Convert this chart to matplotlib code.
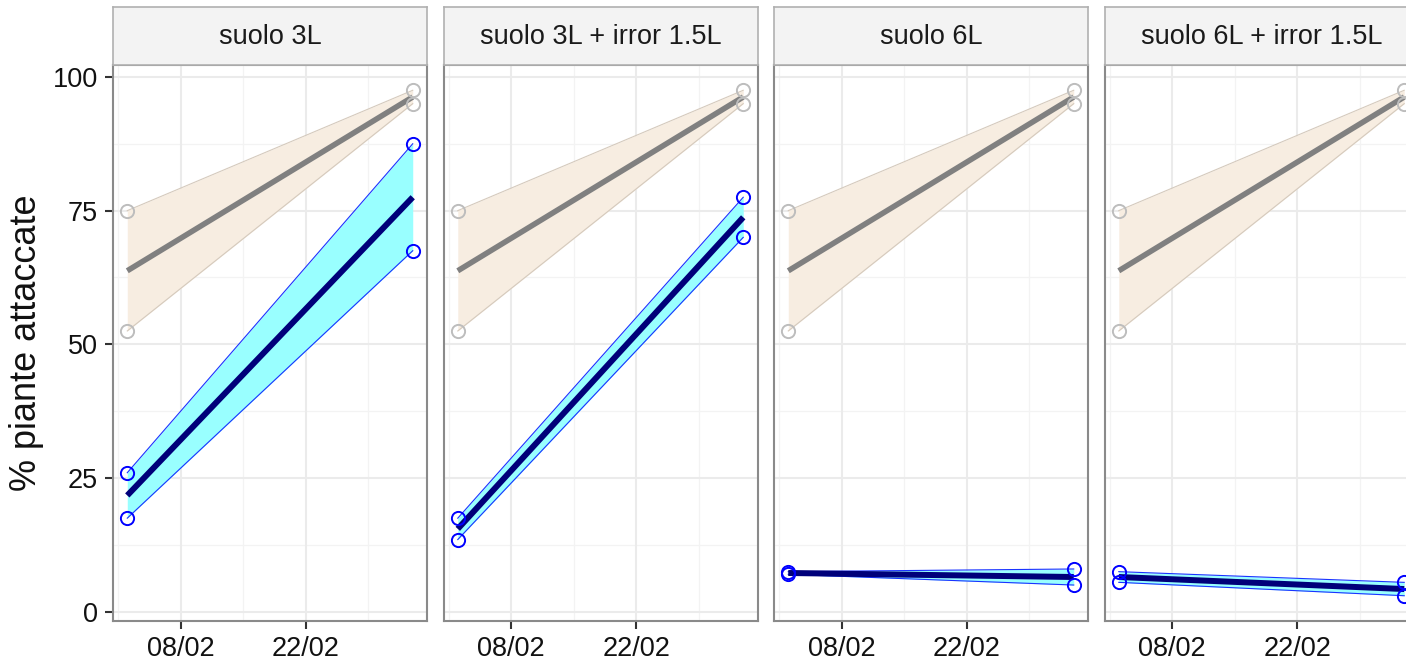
import numpy as np
import matplotlib
matplotlib.use('Agg')
import matplotlib.pyplot as plt
import matplotlib.dates as mdates

plt.rcParams['font.family'] = ['Liberation Sans', 'DejaVu Sans']

# data
panels = ['suolo 3L', 'suolo 3L + irror 1.5L', 'suolo 6L', 'suolo 6L + irror 1.5L']
dates = np.array(['2019-02-02', '2019-03-06'], dtype='datetime64[D]')

ctrl_a = [75.0, 97.5]
ctrl_b = [52.5, 95.0]

treat_a = [[26.0, 87.5], [17.5, 77.5], [7.5, 8.0], [7.5, 5.5]]
treat_b = [[17.5, 67.5], [13.5, 70.0], [7.0, 5.0], [5.5, 3.0]]

major_dates = np.array(['2019-02-08', '2019-02-22'], dtype='datetime64[D]')
minor_dates = np.array(['2019-02-01', '2019-02-15', '2019-03-01'], dtype='datetime64[D]')
y_major = [0, 25, 50, 75, 100]
y_minor = [12.5, 37.5, 62.5, 87.5]

W, H = 1406, 666
fig = plt.figure(figsize=(W / 100, H / 100), dpi=100)

x = mdates.date2num(dates.astype('datetime64[s]').astype(object))
xr = x[-1] - x[0]
xlim = (x[0] - 0.05 * xr, x[-1] + 0.05 * xr)
allv = np.concatenate([ctrl_a, ctrl_b, np.ravel(treat_a), np.ravel(treat_b)])
yr = allv.max() - allv.min()
ylim = (allv.min() - 0.05 * yr, allv.max() + 0.05 * yr)

xmaj = mdates.date2num(major_dates.astype('datetime64[s]').astype(object))
xmin = mdates.date2num(minor_dates.astype('datetime64[s]').astype(object))

left0, pw, gap = 113, 314, 16.5
top, bottom, strip_top = 65, 621, 7
border = '#8a8a8a'


def ribbon(ax, a, b, fill, edge, line, pt, lw):
    a = np.array(a)
    b = np.array(b)
    lo = np.minimum(a, b)
    hi = np.maximum(a, b)
    ax.fill_between(x, lo, hi, color=fill, lw=0, zorder=2)
    ax.plot(x, lo, color=edge, lw=0.8, zorder=2.5)
    ax.plot(x, hi, color=edge, lw=0.8, zorder=2.5)
    ax.plot(x, (a + b) / 2, color=line, lw=lw, zorder=3, solid_capstyle='butt')
    ax.plot(x, a, 'o', mfc='none', mec=pt, ms=9.5, mew=1.4, zorder=4, clip_on=False)
    ax.plot(x, b, 'o', mfc='none', mec=pt, ms=9.5, mew=1.4, zorder=4, clip_on=False)


for i, name in enumerate(panels):
    l = left0 + i * (pw + gap)
    ax = fig.add_axes([l / W, (H - bottom) / H, pw / W, (bottom - top) / H])
    ax.set_xlim(xlim)
    ax.set_ylim(ylim)

    for v in y_minor:
        ax.axhline(v, color='#f3f3f3', lw=0.9, zorder=0)
    for v in xmin:
        ax.axvline(v, color='#f3f3f3', lw=0.9, zorder=0)
    for v in y_major:
        ax.axhline(v, color='#ebebeb', lw=1.5, zorder=0.5)
    for v in xmaj:
        ax.axvline(v, color='#ebebeb', lw=1.5, zorder=0.5)

    ribbon(ax, ctrl_a, ctrl_b, '#f7ede1', '#d5cabd', '#808080', '#bdbdbd', 4.0)
    ribbon(ax, treat_a[i], treat_b[i], '#99ffff', '#1a33ff', '#00007a', '#0000ff', 4.3)

    ax.set_xticks(xmaj)
    ax.xaxis.set_major_formatter(mdates.DateFormatter('%d/%m'))
    ax.set_yticks(y_major)
    ax.tick_params(axis='both', length=6, width=1.5, color='#333333',
                   labelsize=19.5, labelcolor='#111111', pad=5)
    if i > 0:
        ax.tick_params(axis='y', left=False, labelleft=False)
    else:
        ax.set_ylabel('% piante attaccate', fontsize=26, color='#111111', labelpad=6)
    for s in ax.spines.values():
        s.set_color(border)
        s.set_linewidth(1.5)

    sax = fig.add_axes([l / W, (H - top) / H, pw / W, (top - strip_top) / H])
    sax.set_facecolor('#f3f3f3')
    sax.set_xticks([])
    sax.set_yticks([])
    for s in sax.spines.values():
        s.set_color('#b0b0b0')
        s.set_linewidth(1.2)
    sax.text(0.5, 0.48, name, ha='center', va='center', fontsize=19.5,
             color='#1a1a1a', transform=sax.transAxes)

fig.savefig('out.png', dpi=100)
